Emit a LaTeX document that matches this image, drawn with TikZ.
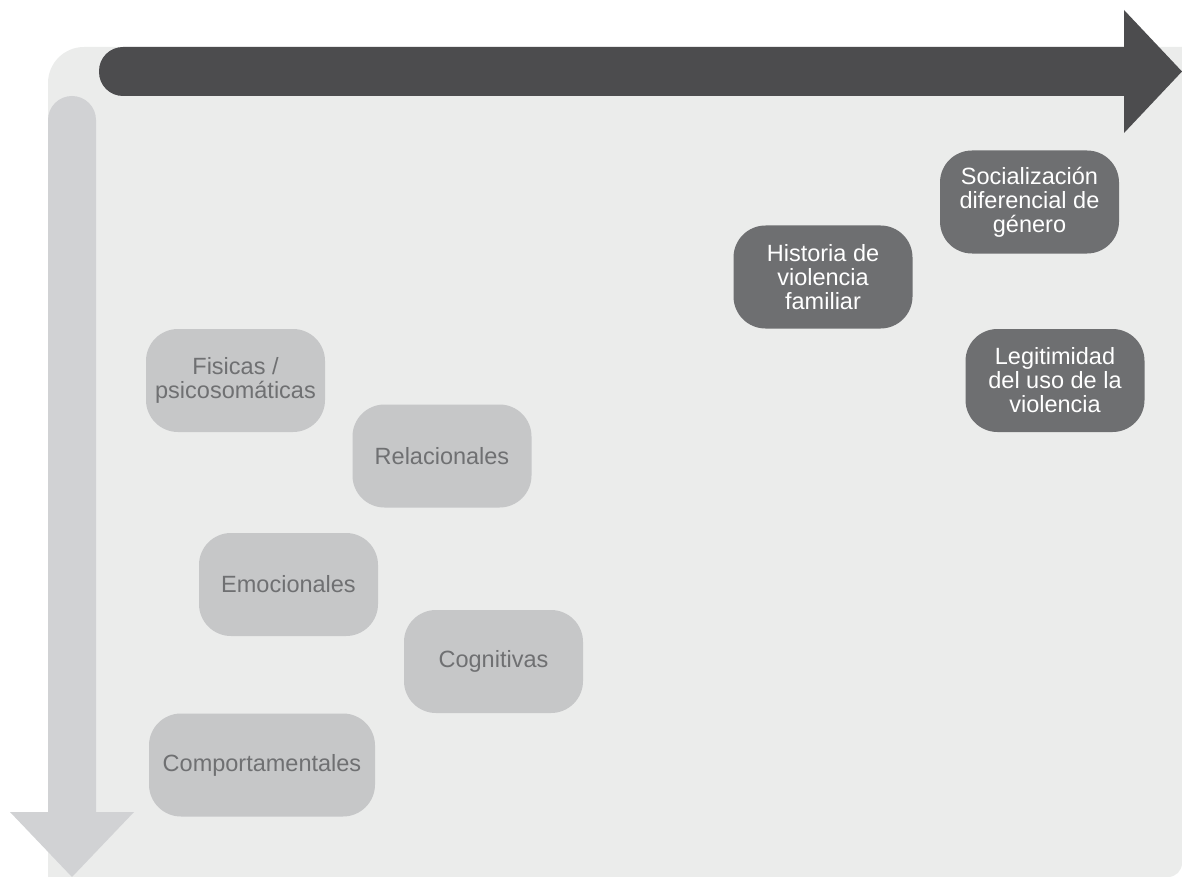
\documentclass[tikz,border=0pt]{standalone}
\usepackage{fontspec}
\setmainfont{Liberation Sans}
\usepackage{xcolor}
\usetikzlibrary{positioning}

\definecolor{panelgrey}{HTML}{EBECEB}
\definecolor{arrowdark}{HTML}{4C4C4E}
\definecolor{arrowlight}{HTML}{D1D2D4}
\definecolor{boxlight}{HTML}{C6C7C8}
\definecolor{boxdark}{HTML}{6E6F71}
\definecolor{textgrey}{HTML}{6F7072}

\begin{document}
\begin{tikzpicture}[
  x=1pt, y=-1pt,
  box/.style={rounded corners=32pt, minimum width=179pt, minimum height=103pt,
              inner xsep=4pt, align=center, font=\fontsize{23.5}{24}\selectfont},
  lightbox/.style={box, fill=boxlight, text=textgrey},
  darkbox/.style={box, fill=boxdark, text=white},
]
\useasboundingbox (0,0) rectangle (1182,877);

% panel
\fill[panelgrey] (48,877) [rounded corners=36pt] -- (48,47) [sharp corners] -- (1182,47)
  [rounded corners=14pt] -- (1182,877) [sharp corners] -- cycle;

% big arrows
\fill[arrowdark] (1124,47) -- (1124,10) -- (1182,71.5) -- (1124,133) -- (1124,96)
  [rounded corners=24pt] -- (99,96) -- (99,47) [sharp corners] -- cycle;
\fill[arrowlight] (48,812) [rounded corners=24pt] -- (48,96) -- (96,96) [sharp corners]
  -- (96,812) -- (134,812) -- (72,877) -- (10,812) -- cycle;

% consequences
\node[lightbox] (fisicas) at (235.5,380.5) {Fisicas /\\psicosomáticas};
\node[lightbox] (relac)   at (442,456)     {Relacionales};
\node[lightbox] (emoc)    at (288.5,584.5) {Emocionales};
\node[lightbox] (cogn)    at (493.5,661.5) {Cognitivas};
\node[lightbox, minimum width=226pt] (comport) at (262,765) {Comportamentales};

% factors
\node[darkbox] (historia) at (823,277)  {Historia de\\violencia\\familiar};
\node[darkbox] (social)   at (1029.5,202) {Socialización\\diferencial de\\género};
\node[darkbox] (legit)    at (1055,380.5) {Legitimidad\\del uso de la\\violencia};
\end{tikzpicture}
\end{document}
